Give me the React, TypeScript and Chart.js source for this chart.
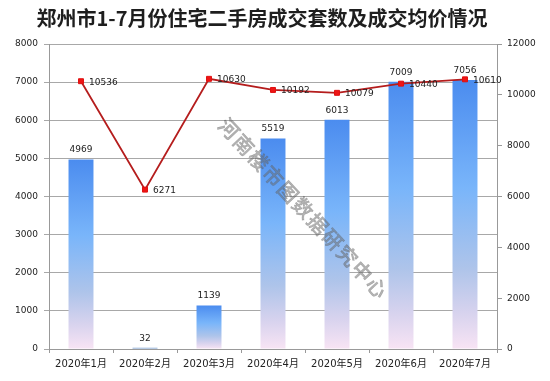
import React, { useEffect, useRef } from "react";
import { Chart, registerables } from "chart.js";

Chart.register(...registerables);

const titleText = "郑州市1-7月份住宅二手房成交套数及成交均价情况";
const watermarkText = "河南楼市图数据研究中心";
const categories = ["2020年1月", "2020年2月", "2020年3月", "2020年4月", "2020年5月", "2020年6月", "2020年7月"];
const volumeValues = [4969, 32, 1139, 5519, 6013, 7009, 7056];
const priceValues = [10536, 6271, 10630, 10192, 10079, 10440, 10610];
const leftTicks = [0, 1000, 2000, 3000, 4000, 5000, 6000, 7000, 8000];
const rightTicks = [0, 2000, 4000, 6000, 8000, 10000, 12000];

const NUM_FONT = '"DejaVu Sans", "Noto Sans CJK SC", sans-serif';

const overlayPlugin = {
  id: "overlay",
  afterDatasetsDraw(chart: any) {
    const ctx = chart.ctx as CanvasRenderingContext2D;
    const area = chart.chartArea;
    ctx.save();
    // watermark
    ctx.translate(area.left + 254, area.top + 164);
    ctx.rotate((47 * Math.PI) / 180);
    ctx.font = '500 20px "Noto Sans CJK SC", sans-serif';
    ctx.textAlign = "center";
    ctx.textBaseline = "middle";
    ctx.fillStyle = "rgba(105,105,105,0.5)";
    ctx.strokeStyle = "rgba(80,80,80,0.35)";
    ctx.lineWidth = 0.5;
    const chars = Array.from(watermarkText);
    const step = 21.7;
    chars.forEach((c, i) => {
      const x = (i - (chars.length - 1) / 2) * step;
      ctx.fillText(c, x, 0);
      ctx.strokeText(c, x, 0);
    });
    ctx.restore();

    ctx.save();
    ctx.font = `9px ${NUM_FONT}`;
    ctx.fillStyle = "#222";
    const barMeta = chart.getDatasetMeta(1);
    barMeta.data.forEach((el: any, i: number) => {
      ctx.textAlign = "center";
      ctx.textBaseline = "bottom";
      ctx.fillText(String(volumeValues[i]), el.x, el.y - 5);
    });
    const lineMeta = chart.getDatasetMeta(0);
    lineMeta.data.forEach((el: any, i: number) => {
      ctx.textAlign = "left";
      ctx.textBaseline = "middle";
      ctx.fillText(String(priceValues[i]), el.x + 8, el.y + 1);
    });
    ctx.restore();
  },
  afterDraw(chart: any) {
    const ctx = chart.ctx as CanvasRenderingContext2D;
    ctx.save();
    ctx.font = 'bold 20px "Noto Sans CJK SC", sans-serif';
    ctx.fillStyle = "#1e1e1e";
    ctx.textAlign = "center";
    ctx.textBaseline = "middle";
    ctx.fillText(titleText, 262, 18);
    ctx.restore();
  },
};

export default function App() {
  const ref = useRef<HTMLCanvasElement | null>(null);
  useEffect(() => {
    if (!ref.current) return;
    const chart = new Chart(ref.current, {
      type: "bar",
      data: {
        labels: categories,
        datasets: [
          {
            type: "line",
            label: "成交均价",
            data: priceValues,
            yAxisID: "y2",
            order: 0,
            borderColor: "#b51d1d",
            borderWidth: 1.8,
            pointStyle: "rect",
            pointRadius: 3.5,
            pointBackgroundColor: "#ee1515",
            pointBorderColor: "#e01010",
            pointBorderWidth: 1,
            tension: 0,
            fill: false,
          } as any,
          {
            type: "bar",
            label: "成交套数",
            data: volumeValues,
            yAxisID: "y",
            order: 1,
            barPercentage: 0.39,
            categoryPercentage: 1,
            backgroundColor: (c: any) => {
              const ch = c.chart;
              if (!ch.chartArea || c.type !== "data") return "#5b9bf0";
              const ys = ch.scales.y;
              const top = ys.getPixelForValue(c.raw);
              const bottom = ys.getPixelForValue(0);
              if (!isFinite(top) || !isFinite(bottom) || bottom - top < 2) return "#6f95c8";
              const g = ch.ctx.createLinearGradient(0, top, 0, bottom);
              g.addColorStop(0, "#4b8cef");
              g.addColorStop(0.4, "#79b5fa");
              g.addColorStop(0.7, "#aec4ea");
              g.addColorStop(0.87, "#d8d3ee");
              g.addColorStop(1, "#f8e4f4");
              return g;
            },
          } as any,
        ],
      },
      options: {
        animation: false,
        responsive: false,
        layout: { padding: { top: 44, left: 0, right: 0, bottom: 0 } },
        plugins: {
          legend: { display: false },
          title: { display: false },
          tooltip: { enabled: false },
        },
        scales: {
          x: {
            offset: true,
            grid: {
              offset: true,
              drawOnChartArea: false,
              drawTicks: true,
              tickLength: 4,
              color: "#999",
            },
            border: { color: "#999" },
            ticks: {
              color: "#222",
              font: { family: NUM_FONT, size: 10 },
              padding: 5,
              maxRotation: 0,
              autoSkip: false,
            },
            afterFit: (s: any) => {
              s.height = 32;
            },
          },
          y: {
            position: "left",
            min: 0,
            max: 8000,
            afterBuildTicks: (s: any) => {
              s.ticks = leftTicks.map((v) => ({ value: v }));
            },
            grid: { color: "#a8a8a8", tickLength: 5, drawTicks: true },
            border: { color: "#999" },
            ticks: {
              color: "#222",
              font: { family: NUM_FONT, size: 9 },
              padding: 6,
              callback: (v: any) => String(v),
            },
            afterFit: (s: any) => {
              s.width = 49;
            },
          },
          y2: {
            position: "right",
            min: 0,
            max: 12000,
            afterBuildTicks: (s: any) => {
              s.ticks = rightTicks.map((v) => ({ value: v }));
            },
            grid: { drawOnChartArea: false, color: "#999", tickLength: 5 },
            border: { color: "#999" },
            ticks: {
              color: "#222",
              font: { family: NUM_FONT, size: 9 },
              padding: 5,
              callback: (v: any) => String(v),
            },
            afterFit: (s: any) => {
              s.width = 53;
            },
          },
        },
      },
      plugins: [overlayPlugin],
    });
    return () => chart.destroy();
  }, []);
  return (
    <div style={{ position: "absolute", left: 0, top: 0, width: 550, height: 381, background: "#fff" }}>
      <canvas ref={ref} width={550} height={381} style={{ display: "block", width: 550, height: 381 }} />
    </div>
  );
}
